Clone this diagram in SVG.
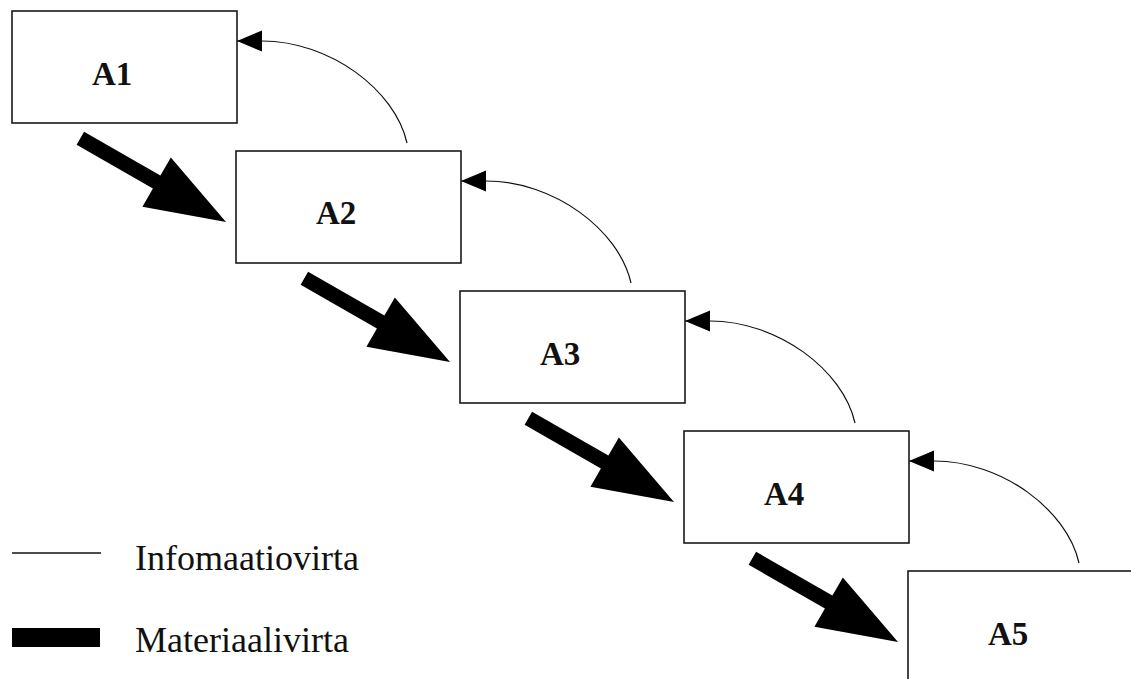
<svg xmlns="http://www.w3.org/2000/svg" xmlns:xlink="http://www.w3.org/1999/xlink" width="1131" height="679" viewBox="0 0 1131 679">
  <style>
    .box { fill: #ffffff; stroke: #1a1a1a; stroke-width: 1.6; }
    .lbl { font-family: "Liberation Serif", "Times New Roman", serif; font-weight: bold; font-size: 33px; fill: #111111; }
    .leg { font-family: "Liberation Serif", "Times New Roman", serif; font-size: 36px; fill: #111111; }
    .info { fill: none; stroke: #111111; stroke-width: 1.2; }
    .mat { fill: #000000; }
  </style>
  <defs>
    <marker id="head" markerUnits="userSpaceOnUse" markerWidth="26" markerHeight="22" refX="25" refY="10.5" orient="auto">
      <path d="M0,0 L25,10.5 L0,21 Z" fill="#000000"/>
    </marker>
    <!-- thick material-flow arrow, tip at origin, pointing along +x -->
    <polygon id="matArrow" class="mat" points="-168,-7.5 -80,-7.5 -80,-28.5 0,0 -80,28.5 -80,7.5 -168,7.5"/>
  </defs>

  <rect width="1131" height="679" fill="#ffffff"/>

  <g id="A1">
    <rect class="box" x="12" y="11" width="225" height="112"/>
    <text class="lbl" x="92" y="85">A1</text>
  </g>
  <g id="A2">
    <rect class="box" x="236" y="151" width="225" height="112"/>
    <text class="lbl" x="316" y="224">A2</text>
  </g>
  <g id="A3">
    <rect class="box" x="460" y="291" width="225" height="112"/>
    <text class="lbl" x="540" y="365">A3</text>
  </g>
  <g id="A4">
    <rect class="box" x="684" y="431" width="225" height="112"/>
    <text class="lbl" x="764" y="505">A4</text>
  </g>
  <g id="A5">
    <rect class="box" x="908" y="571" width="260" height="140"/>
    <text class="lbl" x="988" y="645">A5</text>
  </g>

  <g id="connectors">
    <!-- information flow: curved thin arrows back to the previous stage -->
    <path class="info" marker-end="url(#head)" d="M407,143 C395,90 330,41 262,41 L237,41"/>
    <path class="info" marker-end="url(#head)" d="M631,283 C619,230 554,181 486,181 L461,181"/>
    <path class="info" marker-end="url(#head)" d="M855,423 C843,370 778,321 710,321 L685,321"/>
    <path class="info" marker-end="url(#head)" d="M1079,563 C1067,510 1002,461 934,461 L909,461"/>

    <!-- material flow: thick arrows to the next stage -->
    <use xlink:href="#matArrow" transform="translate(226,222) rotate(29.9)"/>
    <use xlink:href="#matArrow" transform="translate(450,362) rotate(29.9)"/>
    <use xlink:href="#matArrow" transform="translate(674,502) rotate(29.9)"/>
    <use xlink:href="#matArrow" transform="translate(898,642) rotate(29.9)"/>
  </g>

  <g id="legend">
    <line x1="12" y1="553" x2="101" y2="553" stroke="#111111" stroke-width="1.4"/>
    <text class="leg" x="135" y="570">Infomaatiovirta</text>
    <rect x="12" y="628" width="88" height="19" fill="#000000"/>
    <text class="leg" x="135" y="652">Materiaalivirta</text>
  </g>
</svg>
